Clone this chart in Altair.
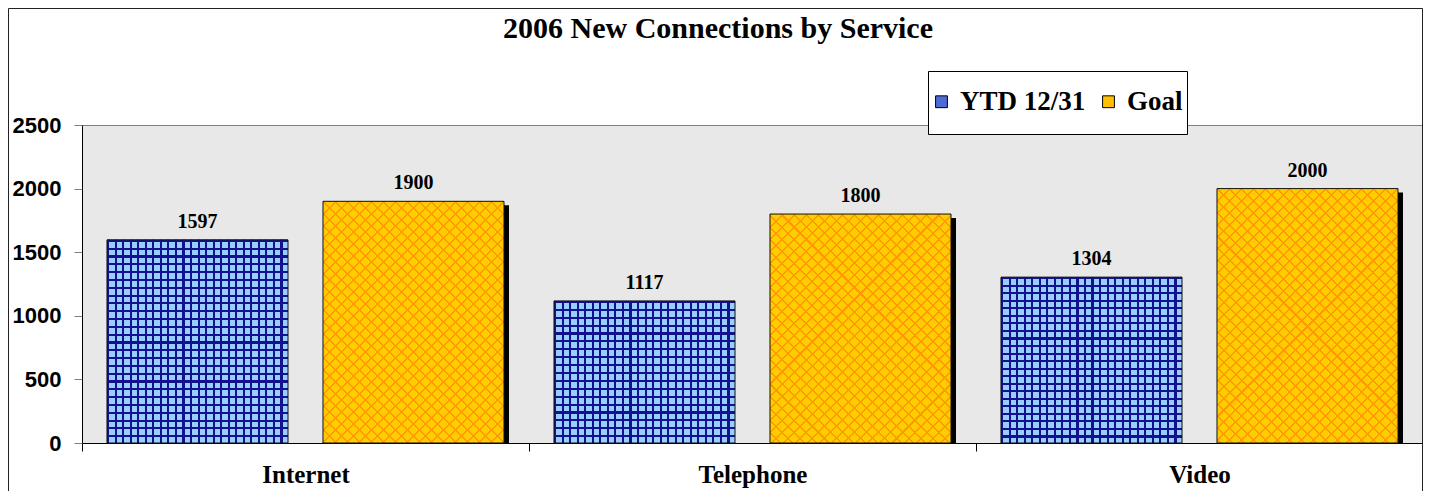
import altair as alt
import pandas as pd

# ---------------- data ----------------
services = ["Internet", "Telephone", "Video"]
series_names = ["YTD 12/31", "Goal"]
ytd_values = [1597, 1117, 1304]
goal_values = [1900, 1800, 2000]
y_tick_values = [0, 500, 1000, 1500, 2000, 2500]
y_max = 2500
title_text = "2006 New Connections by Service"

# ---------------- layout / style ----------------
PLOT_W, PLOT_H = 1341, 318
STEP = 216.0
P_IN = 0.162
P_OUT = (PLOT_W / 3 / STEP - (2 - P_IN)) / 2
BAR_W = STEP * (1 - P_IN)
SERIF = "Liberation Serif"
SANS = "Liberation Sans"

rows = []
for s, a, b in zip(services, ytd_values, goal_values):
    rows.append({"service": s, "series": series_names[0], "value": a})
    rows.append({"service": s, "series": series_names[1], "value": b})
df = pd.DataFrame(rows)

x_axis = alt.Axis(
    title=None, labelAngle=0, domainColor="black", domainWidth=1,
    tickColor="black", tickSize=8, tickBand="extent", labelPadding=11,
    labelFont=SERIF, labelFontWeight="bold", labelFontSize=25, labelColor="black",
    grid=False,
)
x_scale = alt.Scale(domain=services, paddingInner=0, paddingOuter=0)
x_enc = alt.X("service:N", scale=x_scale, axis=x_axis)
xo_enc = alt.XOffset(
    "series:N",
    scale=alt.Scale(domain=series_names, paddingInner=P_IN, paddingOuter=P_OUT),
)
y_enc = alt.Y(
    "value:Q",
    stack=None,
    scale=alt.Scale(domain=[0, y_max], nice=False),
    axis=alt.Axis(
        title=None, values=y_tick_values, format="d", domainColor="black", domainWidth=1,
        tickColor="#808080", tickSize=8, labelPadding=13,
        labelFont=SANS, labelFontWeight="bold", labelFontSize=22, labelColor="black",
        grid=False,
    ),
)


def stripes(c_line, c_bg, n, frac, x1, y1, x2, y2):
    stops = []
    for k in range(n):
        a = k / n
        b = (k + frac) / n
        c = (k + 1) / n
        stops += [
            alt.GradientStop(offset=a, color=c_line),
            alt.GradientStop(offset=b, color=c_line),
            alt.GradientStop(offset=b, color=c_bg),
            alt.GradientStop(offset=c, color=c_bg),
        ]
    return alt.LinearGradient(gradient="linear", stops=stops, x1=x1, y1=y1, x2=x2, y2=y2)


base = alt.Chart(df)

# shadow of the goal bars (fixed-width bar shifted from the band centre)
goal_center = P_OUT * STEP + STEP + BAR_W / 2 + 5
shadow_shift = goal_center - PLOT_W / 6
shadow = base.transform_filter(alt.datum.series == series_names[1]).mark_bar(
    color="black", width=BAR_W, xOffset=shadow_shift, yOffset=4
).encode(x=x_enc, y=y_enc)

# base bars (also drive the legend)
bars = base.mark_bar().encode(
    x=x_enc, xOffset=xo_enc, y=y_enc,
    color=alt.Color(
        "series:N",
        scale=alt.Scale(domain=series_names, range=["#4E6AD6", "#FFC000"]),
        legend=alt.Legend(
            title=None, orient="none", legendX=846, legendY=-37,
            direction="horizontal", symbolType="square", symbolSize=140,
            symbolStrokeColor="black", symbolStrokeWidth=1,
            labelFont=SERIF, labelFontWeight="bold", labelFontSize=27,
            labelColor="black", labelOffset=5, columnPadding=9, padding=0,
        ),
    ),
)

layers = [shadow, bars]

# pattern overlays
P_GRID = 7.7
P_DIAG = 12.0
for s, a, b in zip(services, ytd_values, goal_values):
    # blue grid for YTD bar
    h = a / y_max * PLOT_H
    nh = max(1, round(h / P_GRID))
    grad_h = stripes("#12128F", "#99CCFF", nh, 2.1 / (h / nh), 0, 0, 0, 1)
    layers.append(
        base.transform_filter((alt.datum.service == s) & (alt.datum.series == series_names[0]))
        .mark_bar(fill=grad_h)
        .encode(x=x_enc, xOffset=xo_enc, y=y_enc)
    )
    # gold cross-hatch for goal bar
    hg = b / y_max * PLOT_H
    r = hg / BAR_W
    nd = max(1, round(BAR_W * (1 + r * r) / P_DIAG))
    grad_d1 = stripes("#FF9900", "#FFCC00", nd, 0.17, 0, 0, 1, r)
    grad_d2 = stripes("#FF9900", "rgba(255,204,0,0)", nd, 0.17, 1, 0, 0, r)
    flt = (alt.datum.service == s) & (alt.datum.series == series_names[1])
    layers.append(base.transform_filter(flt).mark_bar(fill=grad_d1).encode(x=x_enc, xOffset=xo_enc, y=y_enc))
    layers.append(base.transform_filter(flt).mark_bar(fill=grad_d2).encode(x=x_enc, xOffset=xo_enc, y=y_enc))

nv = round(BAR_W / P_GRID)
grad_v = stripes("#12128F", "rgba(153,204,255,0)", nv, 2.1 / (BAR_W / nv), 0, 0, 1, 0)
layers.append(
    base.transform_filter(alt.datum.series == series_names[0])
    .mark_bar(fill=grad_v)
    .encode(x=x_enc, xOffset=xo_enc, y=y_enc)
)

# outlines
layers.append(
    base.mark_bar(fillOpacity=0, stroke="#111111", strokeWidth=1)
    .encode(x=x_enc, xOffset=xo_enc, y=y_enc)
)

# value labels
layers.append(
    base.mark_text(baseline="alphabetic", dy=-12, font=SERIF, fontWeight="bold",
                   fontSize=20, color="black")
    .encode(x=x_enc, xOffset=xo_enc, y=y_enc, text=alt.Text("value:Q"))
)

deco = alt.Chart(pd.DataFrame({"label": [title_text]}))

# legend box
layers.append(
    deco.mark_rect(fill="white", stroke="black", strokeWidth=1).encode(
        x=alt.value(846.5), x2=alt.value(1105.5), y=alt.value(-53.5), y2=alt.value(9.5)
    )
)
# chart border
layers.append(
    deco.mark_rect(fillOpacity=0, stroke="#222222", strokeWidth=1).encode(
        x=alt.value(-73.5), x2=alt.value(PLOT_W - 0.5), y=alt.value(-116.5), y2=alt.value(420)
    )
)
# title
layers.append(
    deco.mark_text(font=SERIF, fontWeight="bold", fontSize=30, color="black",
                   align="center", baseline="alphabetic")
    .encode(x=alt.value(636), y=alt.value(-87), text="label:N")
)

chart = (
    alt.layer(*layers)
    .properties(
        width=PLOT_W, height=PLOT_H,
        autosize=alt.AutoSizeParams(type="none"),
        padding={"left": 74, "top": 117, "right": 0, "bottom": 48},
        background="white",
    )
    .configure_view(fill="#E8E8E8", stroke="#808080", strokeWidth=1)
)

chart.save("out.html", embed_options={"renderer": "svg", "actions": False})
